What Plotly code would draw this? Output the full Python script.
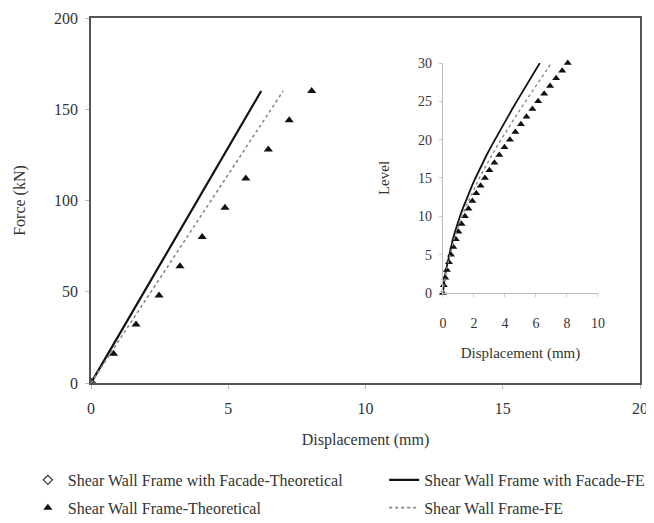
import plotly.graph_objects as go

# main chart: force vs roof displacement
main_fe_facade_x = [0, 6.2]
main_fe_facade_y = [0, 160]
main_fe_x = [0, 7.0]
main_fe_y = [0, 160]
main_theo_x = [0, 0.82, 1.64, 2.48, 3.24, 4.05, 4.88, 5.64, 6.46, 7.22, 8.04]
main_theo_y = [0, 16, 32, 48, 64, 80, 96, 112, 128, 144, 160]
main_theo_facade_x = [0]
main_theo_facade_y = [0]

# inset: level vs displacement
levels = list(range(31))
inset_fe_facade = [0, 0.05, 0.12, 0.2, 0.3, 0.4, 0.52, 0.64, 0.78, 0.93, 1.1, 1.28, 1.47,
                   1.67, 1.88, 2.1, 2.33, 2.57, 2.82, 3.08, 3.35, 3.62, 3.9, 4.18, 4.47,
                   4.76, 5.06, 5.36, 5.66, 5.96, 6.25]
inset_fe = [0, 0.06, 0.13, 0.22, 0.34, 0.45, 0.58, 0.72, 0.87, 1.04, 1.23, 1.43, 1.65,
            1.87, 2.1, 2.35, 2.61, 2.88, 3.16, 3.45, 3.75, 4.05, 4.37, 4.68, 5.0, 5.33,
            5.67, 6.0, 6.34, 6.67, 7.0]
inset_theo = [0, 0.06, 0.15, 0.26, 0.39, 0.52, 0.67, 0.83, 1.0, 1.2, 1.42, 1.65, 1.9,
              2.15, 2.43, 2.71, 3.0, 3.32, 3.64, 3.97, 4.32, 4.67, 5.03, 5.39, 5.77,
              6.14, 6.53, 6.91, 7.3, 7.69, 8.05]

FONT = "Liberation Serif, Times New Roman, serif"
INK = "#333"


def f(size):
    return dict(family=FONT, size=size, color=INK)


fig = go.Figure()

# left legend column: theoretical markers, right column: FE lines
fig.add_trace(go.Scatter(x=main_theo_facade_x, y=main_theo_facade_y, mode="markers",
                         marker=dict(symbol="diamond-open", size=7, color="#333",
                                     line=dict(width=1.2)),
                         name="Shear Wall Frame with Facade-Theoretical",
                         legend="legend", legendgroup="a"))
fig.add_trace(go.Scatter(x=main_theo_x, y=main_theo_y, mode="markers",
                         marker=dict(symbol="triangle-up", size=8, color="#111"),
                         name="Shear Wall Frame-Theoretical",
                         legend="legend", legendgroup="b"))
fig.add_trace(go.Scatter(x=main_fe_facade_x, y=main_fe_facade_y, mode="lines",
                         line=dict(color="#111", width=2.2),
                         name="Shear Wall Frame with Facade-FE",
                         legend="legend2", legendgroup="c"))
fig.add_trace(go.Scatter(x=main_fe_x, y=main_fe_y, mode="lines",
                         line=dict(color="#888", width=1.6, dash="dot"),
                         name="Shear Wall Frame-FE",
                         legend="legend2", legendgroup="d"))

# inset traces
fig.add_trace(go.Scatter(x=inset_theo, y=levels, mode="markers", xaxis="x2", yaxis="y2",
                         marker=dict(symbol="triangle-up", size=7, color="#111"),
                         cliponaxis=False, showlegend=False))
fig.add_trace(go.Scatter(x=inset_fe_facade, y=levels, mode="lines", xaxis="x2", yaxis="y2",
                         line=dict(color="#111", width=1.8), cliponaxis=False,
                         showlegend=False))
fig.add_trace(go.Scatter(x=inset_fe, y=levels, mode="lines", xaxis="x2", yaxis="y2",
                         line=dict(color="#888", width=1.4, dash="dot"), cliponaxis=False,
                         showlegend=False))

leg = dict(orientation="v", xanchor="left", y=-0.219, yanchor="top",
           font=f(16), bgcolor="rgba(0,0,0,0)", tracegroupgap=4)

# page body has an 8px margin, so the figure is a bit smaller than the window
fig.update_layout(
    width=646, height=515,
    margin=dict(l=83, r=14, t=10, b=140, autoexpand=False),
    paper_bgcolor="white", plot_bgcolor="white",
    font=f(16),
    showlegend=True,
    legend=dict(leg, x=-0.115),
    legend2=dict(leg, x=0.534),
    xaxis=dict(range=[0, 20], dtick=5, showgrid=False, zeroline=False, automargin=False,
               showline=True, linecolor="#555", linewidth=1.5, mirror=True,
               ticks="outside", ticklen=4, tickcolor="#bbb", ticklabelstandoff=6,
               title=dict(text="Displacement (mm)", standoff=18, font=f(16)),
               tickfont=f(16)),
    yaxis=dict(range=[0, 200], dtick=50, showgrid=False, zeroline=False, automargin=False,
               showline=True, linecolor="#555", linewidth=1.5, mirror=True,
               ticks="outside", ticklen=4, tickcolor="#bbb", ticklabelstandoff=4,
               title=dict(text="Force (kN)", standoff=24, font=f(16)),
               tickfont=f(16)),
    xaxis2=dict(domain=[0.641, 0.9235], anchor="y2", range=[0, 10], dtick=2,
                automargin=False,
                showgrid=False, zeroline=False, showline=True, linecolor="#bbb",
                linewidth=1, ticks="outside", ticklen=3, tickcolor="#ccc",
                ticklabelstandoff=14,
                title=dict(text="Displacement (mm)", standoff=17, font=f(15)),
                tickfont=f(14)),
    yaxis2=dict(domain=[0.2466, 0.8767], anchor="x2", range=[0, 30], dtick=5,
                automargin=False,
                showgrid=False, zeroline=False, showline=True, linecolor="#bbb",
                linewidth=1, ticks="outside", ticklen=3, tickcolor="#ccc",
                ticklabelstandoff=4,
                title=dict(text="Level", standoff=24, font=f(15)),
                tickfont=f(14)),
)

fig.write_html("out.html")
